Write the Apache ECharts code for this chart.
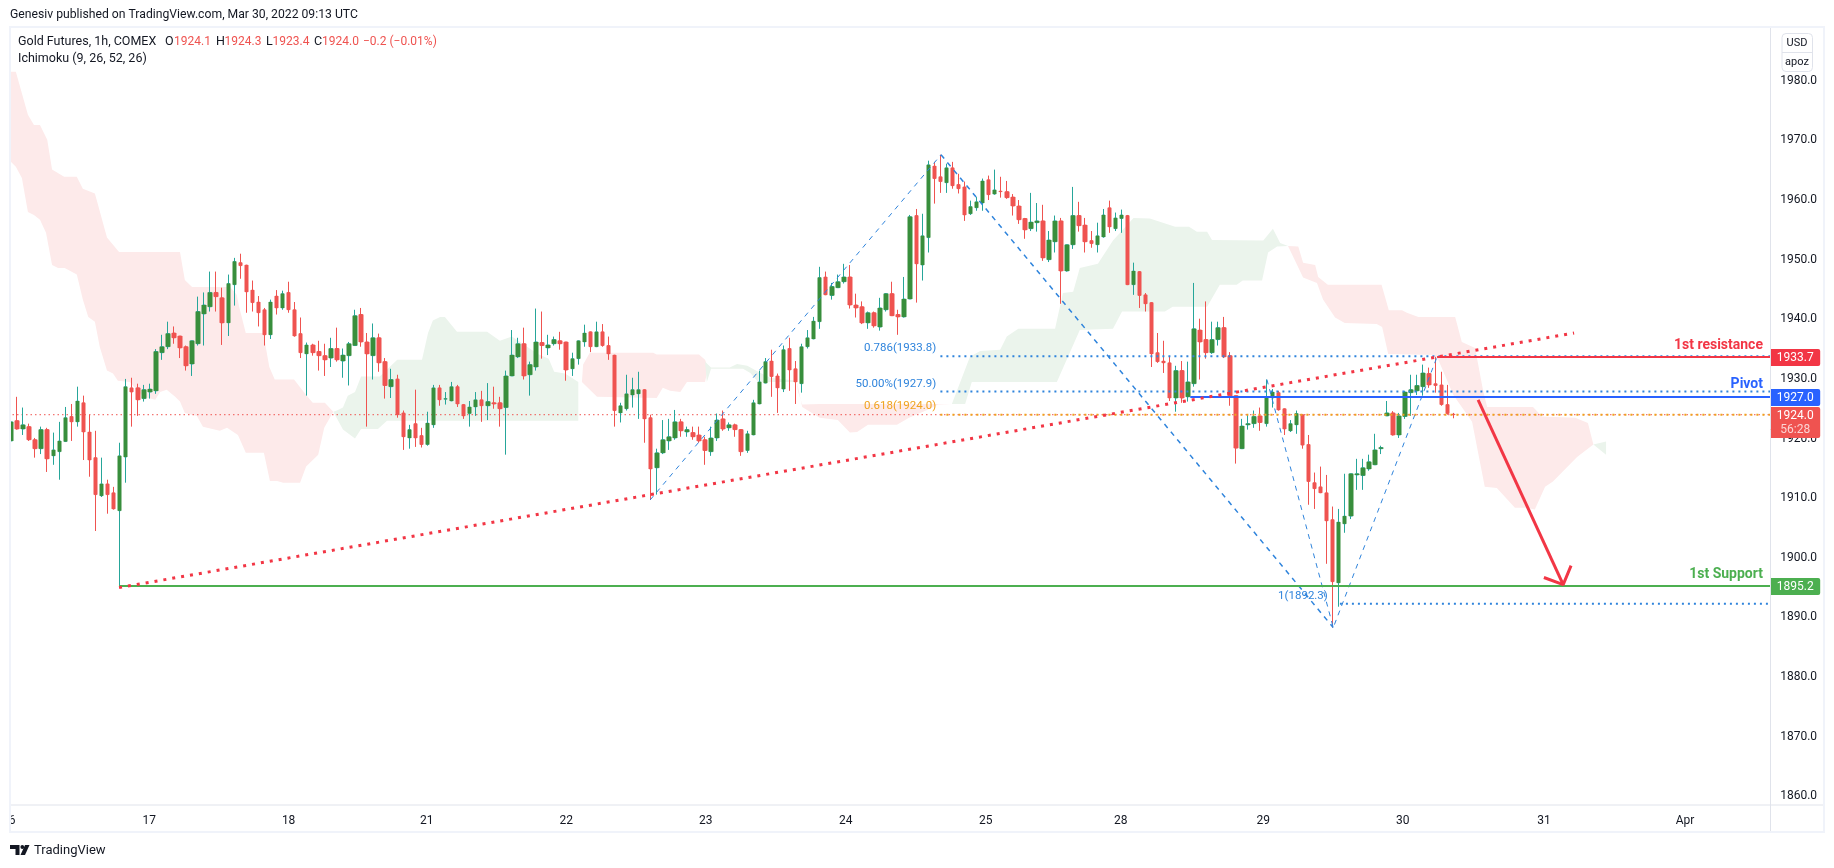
<!DOCTYPE html>
<html>
<head>
<meta charset="utf-8">
<title>Gold Futures</title>
<script src="https://cdn.jsdelivr.net/npm/echarts@6/dist/echarts.min.js"></script>
<style>
  html, body { margin: 0; padding: 0; background: #fff; }
  #chart { width: 1834px; height: 868px; }
</style>
</head>
<body>
<div id="chart"></div>
<script>
// 1h candles
const opens = [
  1919.6,1923.0,1921.6,1922.0,1919.8,1918.3,1921.5,1917.1,1917.8,1919.5,
  1923.7,1922.8,1926.0,1921.1,1916.8,1910.4,1912.4,1910.9,1907.9,1916.9,
  1928.5,1928.5,1926.7,1927.8,1928.0,1934.4,1935.4,1937.7,1937.2,1935.4,
  1932.5,1935.9,1940.9,1942.1,1944.5,1943.6,1939.4,1945.8,1949.5,1949.1,
  1944.9,1942.9,1941.6,1937.4,1943.9,1941.9,1944.5,1941.6,1937.6,1934.2,
  1935.7,1934.6,1933.9,1933.5,1935.1,1933.0,1933.9,1935.6,1940.8,1936.2,
  1933.9,1936.9,1932.9,1928.7,1930.0,1924.3,1920.1,1922.5,1920.5,1919.0,
  1922.3,1928.5,1926.6,1926.3,1928.7,1925.7,1924.2,1925.3,1926.5,1925.5,
  1926.0,1926.0,1925.2,1930.5,1933.7,1935.9,1930.7,1932.0,1936.1,1935.2,
  1935.9,1936.4,1936.2,1931.7,1933.4,1936.2,1937.9,1935.4,1937.9,1935.6,
  1934.0,1924.3,1925.0,1927.3,1927.5,1928.2,1923.5,1915.1,1917.6,1919.6,
  1920.1,1922.8,1921.1,1921.0,1920.6,1919.8,1917.8,1920.1,1923.3,1921.8,
  1922.3,1921.5,1918.0,1920.6,1925.8,1929.3,1933.0,1930.5,1928.3,1935.1,
  1931.7,1929.2,1935.4,1936.7,1939.6,1947.1,1944.0,1945.3,1946.3,1947.1,
  1942.4,1942.1,1939.4,1941.1,1938.7,1941.6,1944.3,1940.8,1940.4,1943.4,
  1957.4,1949.1,1953.7,1965.7,1963.9,1962.9,1965.4,1962.6,1962.2,1957.7,
  1958.7,1959.5,1963.4,1961.0,1961.5,1961.4,1960.5,1959.0,1956.9,1955.2,
  1956.2,1956.5,1950.0,1953.0,1956.5,1948.1,1952.5,1957.4,1955.8,1953.2,
  1952.5,1953.8,1958.7,1955.2,1956.9,1957.4,1945.8,1948.0,1944.1,1942.8,
  1934.4,1933.0,1932.7,1926.8,1931.4,1927.0,1929.2,1938.2,1936.6,1934.4,
  1936.6,1938.6,1933.9,1927.2,1918.3,1922.3,1922.5,1923.8,1922.5,1926.8,
  1927.7,1925.0,1921.3,1922.3,1924.0,1919.0,1912.6,1911.9,1910.9,1906.4,
  1895.8,1905.7,1907.0,1913.9,1913.8,1914.9,1915.6,1918.3,1923.8,1924.3,
  1920.6,1923.7,1927.7,1928.0,1928.7,1930.9,1929.2,1929.0,1925.7,1924.1
];
const closes = [
  1922.8,1921.6,1922.3,1919.8,1918.3,1921.5,1916.6,1918.1,1919.6,1923.5,
  1922.8,1926.3,1921.1,1916.4,1910.6,1912.4,1910.6,1908.2,1917.1,1928.7,
  1927.8,1926.5,1928.2,1928.3,1934.6,1935.4,1937.6,1936.9,1935.2,1932.2,
  1936.4,1941.3,1942.4,1944.5,1943.8,1939.4,1946.0,1949.7,1949.0,1944.6,
  1942.8,1941.1,1937.4,1942.9,1941.9,1944.3,1941.6,1937.2,1934.4,1935.7,
  1934.4,1933.9,1933.2,1935.1,1933.2,1934.0,1935.9,1940.6,1936.2,1934.2,
  1936.9,1932.7,1928.9,1929.9,1924.0,1920.3,1921.5,1920.1,1919.0,1922.6,
  1928.5,1926.5,1926.7,1928.7,1925.8,1923.8,1925.3,1926.5,1925.5,1926.2,
  1925.8,1925.0,1930.5,1934.0,1935.9,1930.5,1932.4,1936.2,1935.6,1935.7,
  1936.6,1935.9,1931.5,1933.4,1936.4,1937.7,1935.4,1937.9,1935.6,1934.2,
  1924.7,1925.5,1927.5,1928.2,1928.2,1923.3,1914.9,1917.6,1919.8,1920.3,
  1922.8,1921.3,1921.5,1920.3,1919.6,1918.0,1920.1,1923.1,1921.6,1922.3,
  1921.5,1917.8,1920.8,1926.0,1929.5,1932.9,1930.4,1928.5,1934.9,1931.5,
  1929.5,1935.4,1936.9,1939.7,1947.0,1944.1,1945.5,1946.3,1947.1,1942.4,
  1941.9,1939.4,1941.1,1938.9,1941.9,1944.3,1940.6,1940.4,1943.4,1957.2,
  1949.3,1954.0,1965.9,1963.6,1963.1,1965.4,1962.4,1961.9,1957.5,1958.9,
  1959.7,1963.2,1960.9,1961.7,1961.4,1960.4,1959.0,1956.7,1955.0,1956.3,
  1956.5,1950.3,1953.3,1956.5,1948.1,1952.5,1957.4,1955.7,1953.0,1952.7,
  1954.0,1957.5,1955.5,1957.0,1957.5,1945.8,1948.1,1944.0,1942.6,1934.2,
  1932.9,1932.7,1926.8,1931.4,1926.8,1929.5,1938.4,1936.2,1934.4,1936.6,
  1938.6,1933.7,1927.0,1918.4,1922.1,1922.5,1923.7,1922.7,1926.8,1927.8,
  1924.8,1921.6,1922.5,1924.2,1918.9,1912.8,1911.6,1910.9,1906.2,1896.0,
  1906.0,1907.0,1914.1,1914.1,1915.1,1916.1,1918.1,1918.5,1924.3,1920.6,
  1923.8,1927.8,1928.2,1928.9,1931.0,1929.0,1928.9,1925.7,1924.2,1924.0
];
const highs = [
  1922.8,1927.0,1925.2,1922.5,1920.1,1922.0,1921.8,1921.0,1922.8,1925.3,
  1925.8,1928.7,1927.2,1924.0,1921.3,1916.8,1913.1,1911.9,1919.3,1930.0,
  1930.2,1929.2,1929.0,1929.2,1935.0,1937.4,1939.6,1938.8,1937.2,1935.6,
  1936.4,1943.8,1944.5,1948.0,1948.0,1945.3,1947.5,1950.3,1951.0,1949.1,
  1946.5,1943.9,1941.9,1943.3,1944.9,1944.8,1946.3,1942.9,1940.3,1936.1,
  1935.9,1936.4,1935.9,1936.9,1938.6,1935.1,1936.2,1941.6,1941.9,1937.7,
  1939.3,1937.6,1933.5,1931.7,1930.7,1924.7,1922.3,1928.2,1921.8,1924.5,
  1929.0,1929.0,1927.8,1929.5,1929.0,1925.8,1926.3,1927.8,1928.0,1929.3,
  1928.7,1927.0,1931.4,1938.2,1936.9,1938.6,1932.9,1941.8,1941.3,1937.4,
  1937.1,1937.9,1936.2,1934.4,1936.4,1939.1,1937.9,1939.6,1939.2,1937.1,
  1934.0,1926.0,1930.7,1930.2,1931.2,1928.2,1924.0,1918.3,1923.1,1923.3,
  1924.8,1923.3,1922.0,1922.0,1922.0,1920.3,1922.0,1924.2,1924.7,1922.7,
  1922.5,1921.5,1921.3,1926.5,1931.4,1933.5,1934.9,1930.9,1935.6,1936.9,
  1933.0,1935.9,1938.2,1940.4,1948.8,1948.0,1946.1,1947.5,1949.3,1949.1,
  1944.3,1943.0,1941.3,1941.3,1943.6,1944.4,1946.3,1941.6,1947.1,1957.5,
  1958.5,1957.7,1966.6,1966.4,1967.6,1966.1,1966.4,1964.4,1963.1,1959.9,
  1960.5,1963.6,1964.1,1965.1,1963.9,1963.2,1961.0,1960.0,1957.0,1961.2,
  1959.5,1959.2,1954.8,1957.4,1957.0,1952.5,1962.2,1959.7,1957.0,1954.8,
  1956.2,1958.5,1959.9,1957.9,1958.4,1957.5,1949.5,1948.0,1944.4,1942.8,
  1937.7,1936.4,1933.7,1932.2,1933.0,1932.9,1946.1,1940.1,1943.0,1939.6,
  1939.6,1940.4,1934.5,1927.2,1923.3,1924.0,1924.7,1925.2,1929.9,1928.3,
  1928.0,1925.0,1923.1,1924.7,1924.0,1920.6,1914.3,1915.3,1913.9,1908.6,
  1908.2,1914.1,1914.1,1916.6,1916.6,1917.3,1920.8,1918.8,1926.3,1924.6,
  1924.3,1928.0,1930.7,1930.7,1932.4,1931.9,1933.7,1931.2,1929.0,1924.3
];
const lows = [
  1919.6,1921.5,1920.6,1919.6,1916.8,1917.4,1914.4,1915.6,1913.1,1919.5,
  1919.6,1922.0,1916.4,1913.6,1904.5,1910.2,1907.4,1908.1,1895.3,1912.6,
  1922.0,1923.8,1926.2,1926.7,1927.5,1933.2,1935.0,1935.9,1933.5,1931.4,
  1930.5,1935.6,1935.6,1941.3,1941.3,1935.7,1937.2,1942.3,1946.8,1941.1,
  1941.3,1938.8,1935.6,1936.7,1940.8,1941.6,1941.1,1937.1,1933.5,1927.2,
  1933.9,1931.4,1930.5,1932.0,1932.9,1930.2,1928.9,1935.6,1935.4,1922.0,
  1929.9,1931.2,1926.7,1926.8,1923.5,1918.1,1918.3,1918.6,1918.5,1918.8,
  1921.8,1925.5,1925.7,1926.3,1925.3,1923.3,1922.0,1923.8,1922.8,1923.1,
  1925.0,1922.0,1917.3,1930.5,1933.5,1929.9,1927.2,1931.4,1933.4,1934.0,
  1935.6,1934.9,1929.7,1930.5,1932.4,1935.4,1934.5,1935.4,1935.4,1933.2,
  1922.0,1922.7,1924.7,1925.2,1923.3,1919.3,1909.7,1910.6,1917.4,1918.1,
  1919.8,1920.3,1920.3,1919.8,1919.3,1915.6,1917.1,1919.6,1921.3,1921.3,
  1920.3,1917.1,1917.6,1920.6,1925.8,1929.3,1927.0,1924.3,1927.8,1928.0,
  1925.8,1927.7,1935.1,1936.7,1938.4,1944.1,1943.3,1945.3,1946.0,1941.8,
  1940.3,1939.2,1938.4,1938.6,1938.1,1941.3,1940.6,1937.4,1940.3,1943.4,
  1942.8,1946.5,1951.2,1959.4,1961.2,1961.2,1961.9,1961.1,1956.5,1957.5,
  1958.2,1958.2,1960.0,1960.9,1960.4,1960.2,1957.4,1956.0,1953.5,1954.8,
  1954.7,1949.8,1949.6,1951.2,1942.6,1948.0,1951.8,1954.7,1951.2,1952.0,
  1951.2,1953.7,1954.5,1954.8,1954.5,1945.8,1944.1,1941.9,1941.3,1932.0,
  1932.7,1931.0,1926.3,1924.5,1926.0,1926.2,1928.7,1929.9,1933.4,1934.2,
  1935.6,1933.5,1925.5,1915.8,1918.3,1921.5,1921.8,1921.3,1922.0,1925.2,
  1924.7,1920.6,1921.1,1920.8,1918.3,1908.9,1908.2,1910.9,1899.0,1888.3,
  1891.8,1904.2,1906.5,1911.4,1911.4,1914.6,1915.6,1917.4,1923.8,1920.5,
  1920.1,1923.3,1923.8,1927.3,1927.2,1928.5,1927.7,1925.5,1924.0,1923.4
];

// axis ticks, x ticks are in bar numbers
const barSlots = 292;
const priceTicks = [1860,1870,1880,1890,1900,1910,1920,1930,1940,1950,1960,1970,1980];
const dayBars = [0.2,22.9,46,68.9,92,115.1,138.3,161.5,183.9,207.5,230.6,254,277.4];
const dayLabels = ['6','17','18','21','22','23','24','25','28','29','30','31','Apr'];

// ichimoku cloud edges, [bar, price]
const redCloud1Top = [[-0.2,1981.5],[0.8,1981.5],[2.8,1974.3],[3.8,1972.6],[4.8,1972.6],[6,1970.1],[6.8,1965.1],[8.8,1963.9],[10.9,1963.9],[11.9,1961.9],[13.9,1961.1],[15.9,1953.7],[17.9,1951.3],[28,1951.3],[28.8,1946.6],[30,1945.4],[36.3,1945.4],[37.4,1944.1],[37.8,1942.1],[38.9,1937.7],[41.8,1937.7],[42.8,1932],[43.7,1929.9],[46.9,1929.9],[48.9,1927.3],[50,1926],[52,1926],[53.4,1924.5]];
const redCloud1Bottom = [[-0.2,1966.6],[0.8,1965.6],[1.8,1963.7],[2.8,1958],[3.8,1957.5],[4.8,1956.7],[5.8,1954.5],[6.8,1949.1],[7.8,1948.6],[8.9,1948.6],[10.9,1947.5],[11.9,1943.3],[12.8,1940.4],[13.9,1939.6],[14.7,1935.4],[15.9,1931.4],[16.9,1930.9],[17.7,1929.7],[19.7,1929.5],[21.9,1927],[23.9,1926.5],[24.7,1927.8],[25.8,1928.2],[27.2,1927],[28,1926.2],[28.8,1924.3],[30.8,1923.8],[31.8,1922],[34.6,1921.3],[35.8,1921.8],[37.6,1920.6],[38.9,1917.6],[41.9,1917.6],[42.9,1912.9],[44.1,1912.9],[45.1,1912.6],[47.9,1912.6],[48.9,1915.3],[50.9,1917.3],[51.9,1921.8],[53.4,1924.5]];
const greenCloud1Top = [[53.4,1924.5],[54,1924.7],[55,1925.2],[55.8,1927.2],[57,1927.8],[58,1930.4],[61.1,1930.4],[64,1933.2],[68.1,1933.2],[69.1,1937.7],[69.9,1939.8],[71.1,1940.4],[71.9,1940.4],[73.9,1937.9],[78.9,1937.9],[81,1936.4],[83,1937.1],[87.3,1934.2],[89.1,1933.4],[90,1931.2],[91.8,1930.9],[94,1929.5]];
const greenCloud1Bottom = [[53.4,1924.5],[55,1921.5],[57,1920],[58,1921.6],[60.8,1921.6],[62.3,1923],[74.4,1923],[94,1923]];
const redCloud2Top = [[94,1923],[94.6,1929.5],[94.8,1932.4],[95.9,1934.4],[106.4,1934.4],[107,1934.1],[114,1934.1],[115,1933.2],[115.5,1931.9]];
const redCloud2Bottom = [[94,1923],[94.6,1929.5],[97.1,1927],[107,1926.8],[108,1928.5],[109.2,1928],[110.9,1927.8],[112,1929.5],[115,1929.5],[115.5,1931.9]];
const greenCloud2Top = [[115,1932.9],[116,1931.9],[119.1,1931.9],[120.3,1932.5],[122,1932.2],[123.8,1931.2],[125.8,1930.2],[130.2,1929.7]];
const greenCloud2Bottom = [[115,1932.9],[115.3,1929.5],[116,1931.7],[119.1,1931.7],[121.3,1931.7],[122.5,1931],[123.8,1929.5],[130.2,1929.5]];
const redCloud3Top = [[130.2,1929.7],[130.4,1927.9],[131.1,1925.7],[134.1,1925.8],[155.9,1925.8]];
const redCloud3Bottom = [[130.2,1929.7],[131.1,1925.3],[134,1923.5],[137,1923.1],[139,1921],[140.2,1921.1],[142,1922.3],[146.8,1922.3],[148.8,1923.5],[151.8,1924.8],[153.6,1925.7],[155.9,1925.8]];
const greenCloud3Top = [[155.9,1925.8],[158.9,1933.7],[160.6,1934.7],[163.9,1934.9],[165,1937.1],[166.9,1938.4],[173,1938.4],[174.3,1944.4],[176,1944.6],[177.1,1948.6],[180.1,1949.3],[182.6,1953.2],[186,1957],[188.7,1956.9],[192.9,1955.5],[195.2,1955.5],[196.5,1954.7],[198.2,1954.7],[199,1953.3],[207.5,1953.2],[209.1,1955.2],[210.3,1952.8],[211.6,1952.3]];
const greenCloud3Bottom = [[155.9,1925.8],[158.1,1925.8],[159.2,1929.5],[173.3,1929.5],[177.1,1938.2],[182.6,1938.4],[184.1,1941.3],[191.2,1941.3],[192.5,1942.1],[198.2,1942.1],[200.3,1945.8],[203.1,1945.8],[204.1,1946.5],[207.3,1946.5],[208.3,1951.2],[209.8,1952.2],[211.6,1952.3]];
const redCloud4Top = [[211.6,1952.3],[213.3,1952.2],[214.1,1949.5],[216.1,1949.1],[216.6,1947.1],[218.2,1945.8],[227.1,1945.8],[227.8,1943.3],[228.3,1941.5],[230.5,1941.5],[231.3,1941.1],[233.2,1940.4],[239.3,1940.4],[240.4,1936.2],[242.6,1935.2],[243.9,1928.2],[244.6,1925.3],[252.2,1925.3],[253.7,1923.7],[259.2,1923.5],[261.3,1922.6],[262.2,1919]];
const redCloud4Bottom = [[211.6,1952.3],[214.1,1947],[216.4,1946.1],[217.4,1943.3],[219.4,1940.3],[221,1939.4],[226.3,1939.2],[227.2,1938.7],[228.2,1934.2],[235.6,1934],[236.5,1933.2],[239,1927.3],[242.1,1922.8],[244.2,1911.9],[246.2,1911.7],[249.2,1908.4],[250.9,1908.4],[252.5,1908.1],[254.2,1911.9],[255.5,1912.8],[259.5,1916.9],[262.2,1919]];
const greenCloud4Top = [[262.2,1919],[264.3,1919.5]];
const greenCloud4Bottom = [[262.2,1919],[264.3,1917.3]];

// drawings on the chart, [bar, price]
const trendLine = [[17.9,1895],[259,1937.7]];
const zigzagUp = [[105.9,1909.7],[154.1,1967.6]];
const zigzagDown = [[154.1,1967.6],[219.1,1888.3]];
const zigzagBack = [[208.1,1929.9],[219.1,1888.3],[236.3,1933.7]];
const fib786 = [[154,1933.8],[291.5,1933.8]];
const fib50 = [[154,1927.9],[291.5,1927.9]];
const fib618 = [[154,1924],[291.5,1924]];
const fib1 = [[220.2,1892.3],[291.5,1892.3]];
const resistanceLine = [[236.3,1933.7],[291.5,1933.7]];
const pivotLine = [[195.4,1927],[291.5,1927]];
const supportLine = [[17.9,1895.2],[291.5,1895.2]];
const lastPriceLine = [[-0.5,1924],[291.5,1924]];
const arrowShaft = [[243.1,1926.5],[257.2,1895.5]];
const arrowHead = [[254,1896.7],[257.2,1895.5],[258.5,1898.7]];

// text on the chart
const noteBars = [153.3,153.3,153.3,218.2,290.3,290.3,290.3];
const notePrices = [1935.1,1929.2,1925.4,1893.6,1935.6,1929,1897.2];
const noteTexts = ['0.786(1933.8)','50.00%(1927.9)','0.618(1924.0)','1(1892.3)','1st resistance','Pivot','1st Support'];

// price tags on the right axis
const tagPrices = [1933.7,1927,1924,1895.2];
const tagTexts = ['1933.7','1927.0','1924.0','1895.2'];
const countdownText = '56:28';

const font = 'Roboto, "Liberation Sans", sans-serif';
const inkColor = '#131722';
const lineColor = '#e0e3eb';
const frameColor = '#f0f3fa';
const redColor = '#ef5350';
const drawRed = '#f23645';
const blueColor = '#2962ff';
const greenLine = '#4caf50';
const bodyGreen = '#388e3c';
const wickGreen = '#26a69a';
const fibBlue = '#2f84dc';
const fibOrange = '#f0a31e';
const noteColors = [fibBlue, fibBlue, fibOrange, fibBlue, drawRed, blueColor, greenLine];
const tagColors = [drawRed, blueColor, redColor, greenLine];

const clouds = [
  { top: redCloud1Top, bottom: redCloud1Bottom, fill: '#fdeaea' },
  { top: greenCloud1Top, bottom: greenCloud1Bottom, fill: '#ebf4ec' },
  { top: redCloud2Top, bottom: redCloud2Bottom, fill: '#fdeaea' },
  { top: greenCloud2Top, bottom: greenCloud2Bottom, fill: '#ebf4ec' },
  { top: redCloud3Top, bottom: redCloud3Bottom, fill: '#fdeaea' },
  { top: greenCloud3Top, bottom: greenCloud3Bottom, fill: '#ebf4ec' },
  { top: redCloud4Top, bottom: redCloud4Bottom, fill: '#fdeaea' },
  { top: greenCloud4Top, bottom: greenCloud4Bottom, fill: '#ebf4ec' }
];

const chart = echarts.init(document.getElementById('chart'), null, { renderer: 'canvas' });

const categories = [];
for (let i = 0; i < barSlots; i++) categories.push(String(i));

// wicks come from one candlestick series, the bodies sit on top of them,
// because the green wick is teal and the green body is not
const wickData = opens.map((o, i) => [o, closes[i], lows[i], highs[i]]);
const bodyData = opens.map((o, i) => [o, closes[i], Math.min(o, closes[i]), Math.max(o, closes[i])]);

function drawLine(data, color, width, dash, z) {
  return {
    type: 'line',
    xAxisIndex: 1,
    yAxisIndex: 0,
    data: data,
    symbol: 'none',
    silent: true,
    z: z || 5,
    lineStyle: { color: color, width: width, type: dash || 'solid', cap: 'butt' }
  };
}

// horizontal price lines snap to whole pixels so the 2px stroke stays crisp
function priceLine(data, color) {
  return {
    type: 'custom',
    xAxisIndex: 1,
    yAxisIndex: 0,
    clip: true,
    silent: true,
    z: 6,
    data: [[0]],
    renderItem: (params, api) => {
      const a = api.coord(data[0]);
      const b = api.coord(data[1]);
      const y = Math.round(a[1]);
      return {
        type: 'line',
        shape: { x1: a[0], y1: y, x2: b[0], y2: y },
        style: { stroke: color, lineWidth: 2 },
        silent: true
      };
    }
  };
}

function renderCloud(params, api) {
  const c = clouds[params.dataIndex];
  const pts = c.top.concat(c.bottom.slice().reverse()).map(p => api.coord(p));
  return { type: 'polygon', shape: { points: pts }, style: { fill: c.fill }, silent: true };
}

function renderNote(params, api) {
  const i = params.dataIndex;
  const p = api.coord([noteBars[i], notePrices[i]]);
  const bold = i >= 4;
  return {
    type: 'text',
    silent: true,
    style: {
      x: p[0], y: p[1], text: noteTexts[i], fill: noteColors[i],
      font: (bold ? 'bold 14px ' : '11.5px ') + font,
      align: 'right', verticalAlign: 'middle'
    }
  };
}

function renderTag(params, api) {
  const i = params.dataIndex;
  const p = api.coord([291.5, tagPrices[i]]);
  const tall = tagTexts[i] === '1924.0';
  const top = Math.round(p[1]) - 8;
  const kids = [
    { type: 'rect', shape: { x: p[0], y: top, width: 50, height: tall ? 31 : 17, r: [0, 2, 2, 0] }, style: { fill: tagColors[i] } },
    { type: 'text', style: { x: p[0] + 25, y: top + 8.5, text: tagTexts[i], fill: '#fff', font: '12px ' + font, align: 'center', verticalAlign: 'middle' } }
  ];
  if (tall) {
    kids.push({ type: 'text', style: { x: p[0] + 25, y: top + 22.5, text: countdownText, fill: 'rgba(255,255,255,0.75)', font: '12px ' + font, align: 'center', verticalAlign: 'middle' } });
  }
  return { type: 'group', silent: true, children: kids };
}

function headerText(x, y, text, color, size) {
  return { type: 'text', x: x, y: y, z: 20, silent: true, style: { text: text, fill: color || inkColor, font: (size || 12.5) + 'px ' + font, verticalAlign: 'middle' } };
}

const option = {
  animation: false,
  backgroundColor: '#fff',
  grid: { left: 8, top: 27.7, width: 1762.2, height: 777 },
  xAxis: [
    {
      type: 'category',
      data: categories,
      boundaryGap: true,
      axisLine: { show: false },
      axisTick: { show: false },
      axisLabel: { show: false },
      splitLine: { show: false }
    },
    {
      type: 'value',
      position: 'bottom',
      min: -0.5,
      max: 291.5,
      axisLine: { show: false },
      axisTick: { show: false },
      splitLine: { show: false },
      axisLabel: {
        customValues: dayBars,
        formatter: v => dayLabels[dayBars.indexOf(v)],
        color: inkColor,
        fontFamily: font,
        fontSize: 12,
        margin: 10,
        showMinLabel: true,
        showMaxLabel: true
      }
    }
  ],
  yAxis: {
    type: 'value',
    position: 'right',
    min: 1858.6,
    max: 1988.9,
    axisLine: { show: false },
    axisTick: { show: false },
    splitLine: { show: false },
    axisLabel: {
      customValues: priceTicks,
      formatter: v => v.toFixed(1),
      color: inkColor,
      fontFamily: font,
      fontSize: 12,
      margin: 10
    }
  },
  series: [
    {
      type: 'custom',
      xAxisIndex: 1,
      yAxisIndex: 0,
      clip: true,
      silent: true,
      z: 1,
      data: clouds.map((c, i) => [i]),
      renderItem: renderCloud
    },
    drawLine(lastPriceLine, redColor, 1, [1.5, 3], 2),
    {
      type: 'candlestick',
      xAxisIndex: 0,
      yAxisIndex: 0,
      barWidth: 3,
      silent: true,
      z: 3,
      data: wickData,
      itemStyle: { color: bodyGreen, color0: redColor, borderColor: wickGreen, borderColor0: redColor, borderWidth: 1 }
    },
    {
      type: 'candlestick',
      xAxisIndex: 0,
      yAxisIndex: 0,
      barWidth: 5,
      silent: true,
      z: 4,
      data: bodyData,
      itemStyle: { color: bodyGreen, color0: redColor, borderWidth: 0 }
    },
    drawLine(zigzagUp, fibBlue, 1, [5, 5]),
    drawLine(zigzagDown, fibBlue, 1.5, [5, 5]),
    drawLine(zigzagBack, fibBlue, 1, [5, 5]),
    drawLine(fib786, fibBlue, 2, [2, 4]),
    drawLine(fib50, fibBlue, 2, [2, 4]),
    drawLine(fib618, fibOrange, 2, [2, 4]),
    drawLine(fib1, fibBlue, 2, [2, 4]),
    drawLine(trendLine, drawRed, 3, [3, 6], 6),
    priceLine(supportLine, greenLine),
    priceLine(pivotLine, blueColor),
    priceLine(resistanceLine, drawRed),
    drawLine(arrowShaft, drawRed, 3, 'solid', 6),
    drawLine(arrowHead, drawRed, 3, 'solid', 6),
    {
      type: 'custom',
      xAxisIndex: 1,
      yAxisIndex: 0,
      clip: false,
      silent: true,
      z: 7,
      data: noteTexts.map((t, i) => [i]),
      renderItem: renderNote
    },
    {
      type: 'custom',
      xAxisIndex: 1,
      yAxisIndex: 0,
      clip: false,
      silent: true,
      z: 8,
      data: tagTexts.map((t, i) => [i]),
      renderItem: renderTag
    }
  ],
  graphic: [
    // outer frame and axis rules
    { type: 'rect', z: 15, silent: true, shape: { x: 0, y: 28, width: 9, height: 777 }, style: { fill: '#fff' } },
    { type: 'rect', z: 16, silent: true, shape: { x: 10, y: 27, width: 1814, height: 805 }, style: { fill: 'none', stroke: frameColor, lineWidth: 2 } },
    { type: 'line', z: 16, silent: true, shape: { x1: 11, y1: 805, x2: 1823, y2: 805 }, style: { stroke: lineColor, lineWidth: 1 } },
    { type: 'line', z: 16, silent: true, shape: { x1: 1770.5, y1: 28, x2: 1770.5, y2: 831 }, style: { stroke: lineColor, lineWidth: 1 } },
    // header
    headerText(10, 14.5, 'Genesiv published on TradingView.com, Mar 30, 2022 09:13 UTC', inkColor, 12.2),
    headerText(18, 41.5, 'Gold Futures, 1h, COMEX'),
    headerText(165, 41.5, 'O'),
    headerText(174, 41.5, '1924.1', redColor, 12),
    headerText(216, 41.5, 'H'),
    headerText(224.5, 41.5, '1924.3', redColor, 12),
    headerText(266, 41.5, 'L'),
    headerText(272.5, 41.5, '1923.4', redColor, 12),
    headerText(314, 41.5, 'C'),
    headerText(322, 41.5, '1924.0', redColor, 12),
    headerText(363, 41.5, '−0.2 (−0.01%)', redColor, 12),
    headerText(18, 59, 'Ichimoku (9, 26, 52, 26)'),
    // currency and unit button
    { type: 'rect', z: 16, silent: true, shape: { x: 1782, y: 33.5, width: 30.5, height: 38, r: 4 }, style: { fill: '#fff', stroke: lineColor, lineWidth: 1 } },
    { type: 'line', z: 16, silent: true, shape: { x1: 1782, y1: 52.5, x2: 1812.5, y2: 52.5 }, style: { stroke: lineColor, lineWidth: 1 } },
    { type: 'text', z: 17, silent: true, x: 1797, y: 43, style: { text: 'USD', fill: inkColor, font: '11px ' + font, align: 'center', verticalAlign: 'middle' } },
    { type: 'text', z: 17, silent: true, x: 1797, y: 62, style: { text: 'apoz', fill: inkColor, font: '11px ' + font, align: 'center', verticalAlign: 'middle' } },
    // logo
    { type: 'polygon', z: 16, silent: true, shape: { points: [[10, 845], [19.5, 845], [19.5, 855], [15.5, 855], [15.5, 849], [10, 849]] }, style: { fill: inkColor } },
    { type: 'circle', z: 16, silent: true, shape: { cx: 22.3, cy: 847, r: 1.9 }, style: { fill: inkColor } },
    { type: 'polygon', z: 16, silent: true, shape: { points: [[25, 845], [29.5, 845], [25, 855], [20.5, 855]] }, style: { fill: inkColor } },
    { type: 'text', z: 17, silent: true, x: 34, y: 850.5, style: { text: 'TradingView', fill: inkColor, font: '13px ' + font, verticalAlign: 'middle' } }
  ]
};

chart.setOption(option);
</script>
</body>
</html>
